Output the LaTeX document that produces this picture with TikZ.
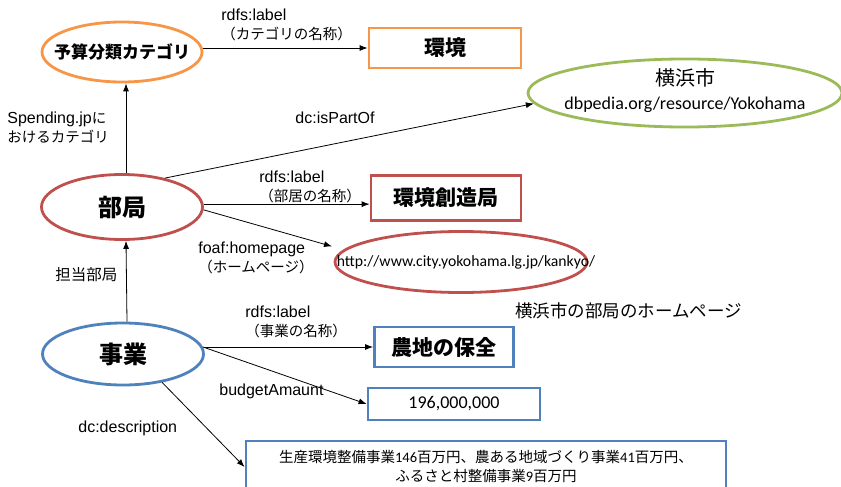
\documentclass[tikz,border=0pt]{standalone}
\usepackage{fontspec}
\setmainfont{Liberation Sans}
\newfontfamily\jp{Noto Sans CJK JP}
\newfontfamily\calib{Carlito}
\usepackage{xcolor}
\usepackage{tikz}
\usetikzlibrary{arrows.meta, positioning, shapes.geometric}
\definecolor{orangeline}{HTML}{F79646}
\definecolor{redline}{HTML}{C0504D}
\definecolor{greenline}{HTML}{9BBB59}
\definecolor{blueline}{HTML}{4F81BD}
\newcommand{\lj}[1]{{\jp\fontsize{14.5}{19}\selectfont #1}}

\begin{document}
\begin{tikzpicture}[x=1pt, y=-1pt, >={Latex[length=8pt, width=6pt]}, line width=0.8pt,
		class/.style={ellipse, draw, line width=2.8pt, minimum width=161pt, minimum height=62pt, inner sep=0pt, font=\jp\bfseries\fontsize{24}{28}\selectfont},
		literal/.style={rectangle, draw, line width=2.8pt, inner sep=0pt, font=\jp\bfseries\fontsize{21}{25}\selectfont},
		lab/.style={align=left, inner sep=0pt, anchor=west, font=\fontsize{16}{19}\selectfont}]
				\useasboundingbox (0, 0) rectangle (841, 487);

				\node[class, draw=orangeline, minimum width=160pt, minimum height=60pt, font=\jp\bfseries\fontsize{17}{20}\selectfont] (yosan) at (122, 52) {\makebox[0pt]{予算分類カテゴリ}};
				\node[literal, draw=orangeline, minimum width=152pt, minimum height=40pt] (kankyo) at (445, 48) {環境};
				\node[class, draw=greenline, minimum width=314pt, minimum height=62pt, font=\fontsize{18}{24}\selectfont] (yokohama) at (685, 93) {\makebox[0pt]{\raisebox{-5pt}{\begin{tabular}{@{}c@{}}{\jp\fontsize{20}{24}\selectfont 横浜市}\\{\calib dbpedia.org/resource/Yokohama}\end{tabular}}}};
				\node[class, draw=redline, minimum height=65pt] (bukyoku) at (122, 207) {部局};
				\node[literal, draw=redline, minimum width=150pt, minimum height=45pt] (sozo) at (446, 198) {環境創造局};
				\node[class, draw=redline, minimum width=252pt, minimum height=61pt, font=\calib\fontsize{15.7}{19}\selectfont] (url) at (461, 262) {\makebox[0pt]{\hspace{10pt}http://www.city.yokohama.lg.jp/kankyo/}};
				\node[class, draw=blueline] (jigyo) at (123, 354) {事業};
				\node[literal, draw=blueline, minimum width=139pt, minimum height=40pt] (nochi) at (444, 347) {農地の保全};
				\node[literal, draw=blueline, minimum width=172pt, minimum height=32pt, font=\calib\fontsize{18}{20}\selectfont] (amount) at (454, 404) {196,000,000};
				\node[literal, draw=blueline, minimum width=480pt, minimum height=52pt, align=center, font=\calib\fontsize{14.5}{19}\selectfont] (desc) at (486, 467) {{\jp 生産環境整備事業}146{\jp 百万円、農ある地域づくり事業}41{\jp 百万円、}\\{\jp ふるさと村整備事業}9{\jp 百万円}};

				\node[lab] (lcat) at (221, 25) {rdfs:label\\\lj{（カテゴリの名称）}};
				\node[lab] (lspend) at (7, 128) {Spending.jp\lj{に}\\\lj{おけるカテゴリ}};
				\node[lab, anchor=center] (lpart) at (335, 118) {dc:isPartOf};
				\node[lab] (lbulabel) at (259, 187) {rdfs:label\\\lj{（部居の名称）}};
				\node[lab] (lhome) at (198, 258) {foaf:homepage\\\lj{（ホームページ）}};
				\node[lab, font=\jp\fontsize{15.5}{19}\selectfont] (ltanto) at (55, 275) {担当部局};
				\node[lab, font=\jp\fontsize{17.5}{20}\selectfont] (lnote) at (515, 311) {横浜市の部局のホームページ};
				\node[lab] (ljilabel) at (245, 322) {rdfs:label\\\lj{（事業の名称）}};
				\node[lab] (lbudget) at (219, 391) {budgetAmaunt};
				\node[lab] (ldesc) at (78, 428) {dc:description};

				\draw[->] (yosan.east |- kankyo) -- (kankyo.west);
				\draw[->] ([xshift=4pt]bukyoku.north) -- ([xshift=4pt]yosan.south);
				\draw[->] (bukyoku.34) -- (yokohama.184);
				\draw[->] (bukyoku.2) -- (bukyoku.2 -| sozo.west);
				\draw[->, shorten >=12pt] (bukyoku.-2) -- (url.174);
				\draw[->] ([xshift=4pt]jigyo.north) -- ([xshift=4pt]bukyoku.south);
				\draw[->] (jigyo.east |- nochi) -- (nochi.west);
				\draw[->] (jigyo.5) -- (amount.west);
				\draw[->] (jigyo.-36) -- (desc.west);
			\end{tikzpicture}
\end{document}
